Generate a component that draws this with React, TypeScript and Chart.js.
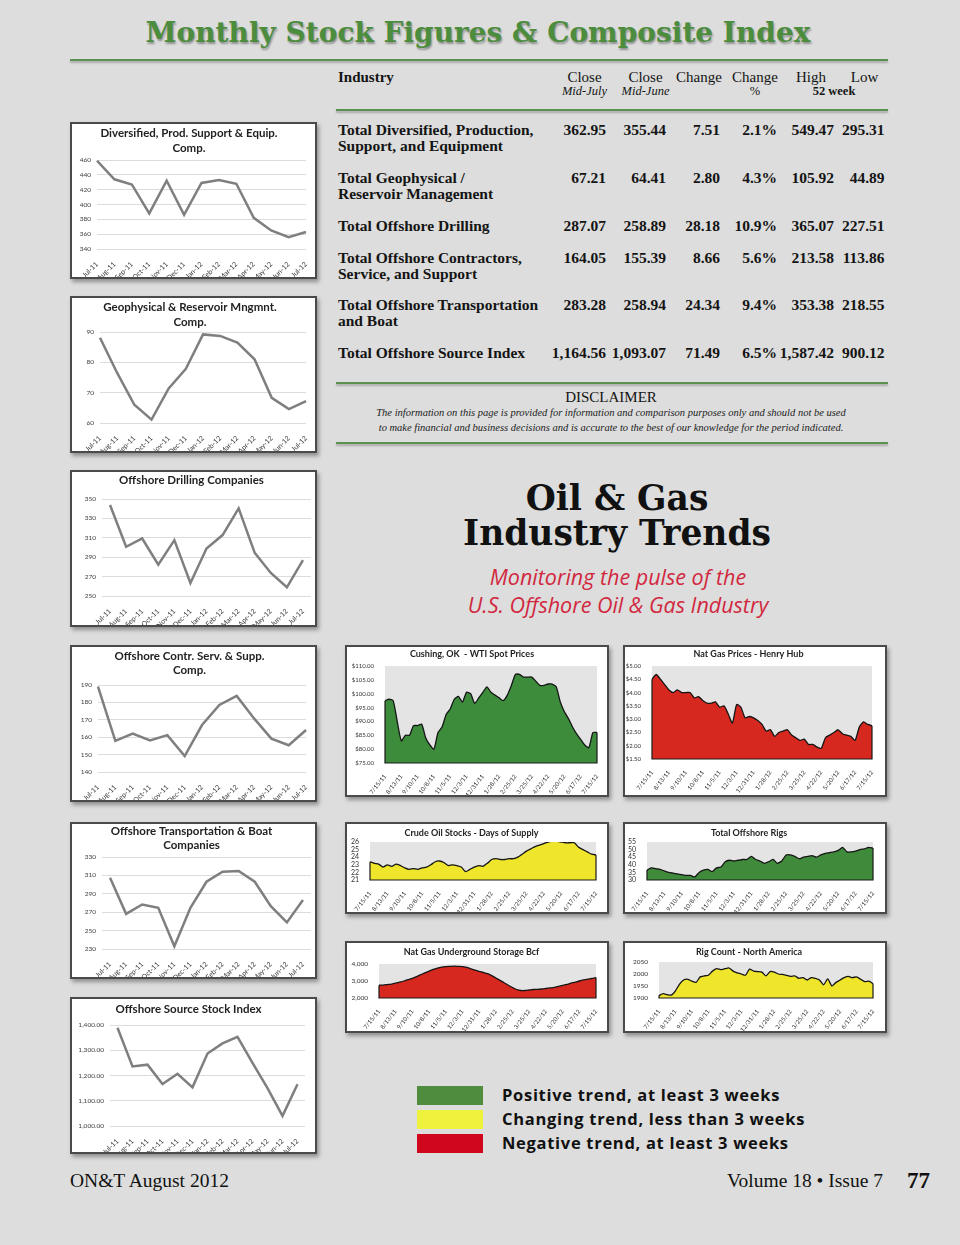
import React, { useEffect, useRef } from 'react';
import { Chart, registerables } from 'chart.js';

Chart.register(...registerables);
Chart.defaults.font.family = "Lato, 'Open Sans', sans-serif";

// ---------- monthly stock charts ----------
const months = ['Jul-11', 'Aug-11', 'Sep-11', 'Oct-11', 'Nov-11', 'Dec-11', 'Jan-12', 'Feb-12', 'Mar-12', 'Apr-12', 'May-12', 'Jun-12', 'Jul-12'];
const diversifiedValues = [459, 434, 427, 388, 432, 386, 429, 433, 428, 382, 365, 356, 363];
const geophysicalValues = [88.1, 76.5, 66, 61.1, 71.4, 77.9, 89.2, 88.7, 86.5, 81, 68.3, 64.6, 67.2];
const drillingValues = [343.8, 300.7, 309.3, 282.4, 307.6, 263.4, 299, 312.8, 340.3, 294.5, 273.8, 259, 287.1];
const contractorsValues = [189, 157.9, 162.1, 158.1, 161.2, 149.2, 167, 178.5, 183.7, 170.8, 159.2, 155.4, 164.1];
const transportValues = [307.5, 268.2, 278.4, 274.7, 232.9, 274.7, 303.1, 314, 314.7, 303.1, 276.5, 258.9, 283.3];
const sourceIndexValues = [1389, 1236, 1243, 1166, 1207, 1153, 1287, 1327, 1353, 1250, 1150, 1040, 1165];

// ---------- weekly trend charts ----------
const dateTicks = ['7/15/11', '8/13/11', '9/10/11', '10/8/11', '11/5/11', '12/3/11', '12/31/11', '1/28/12', '2/25/12', '3/25/12', '4/22/12', '5/20/12', '6/17/12', '7/15/12'];
const wtiValues = [97.5, 98, 97.5, 90, 83, 85, 85, 88.5, 88.5, 89, 84, 81.5, 80, 86, 88, 92.5, 94.5, 98, 99, 97, 100.5, 100, 96.5, 98.5, 100.5, 102.5, 100.5, 99.5, 98.5, 97.5, 99.5, 103, 107, 107, 106, 106, 106, 104.5, 103, 103, 103.5, 103.5, 102.5, 97, 93.5, 91, 88, 85.5, 83.5, 81.5, 80.5, 86, 86];
const henryHubValues = [4.5, 4.68, 4.5, 4.3, 4.1, 4.0, 4.1, 4.0, 4.0, 4.0, 3.8, 3.85, 3.7, 3.6, 3.6, 3.65, 3.45, 3.5, 3.2, 2.85, 3.55, 3.45, 3.05, 3.1, 3.05, 2.95, 2.8, 2.55, 2.6, 2.35, 2.5, 2.55, 2.6, 2.4, 2.3, 2.2, 2.25, 2.05, 2.05, 1.95, 1.9, 2.3, 2.4, 2.5, 2.6, 2.45, 2.4, 2.35, 2.2, 2.7, 2.9, 2.8, 2.75];
const crudeDaysValues = [23.4, 23.2, 23.1, 22.7, 23.0, 22.8, 23.1, 22.9, 22.6, 22.4, 22.5, 22.4, 22.6, 22.7, 23.0, 23.4, 23.5, 23.3, 22.9, 23.0, 22.9, 22.7, 22.1, 22.4, 22.7, 22.9, 22.8, 23.2, 23.7, 23.8, 23.7, 23.7, 23.8, 23.8, 24.0, 24.4, 24.8, 25.1, 25.4, 25.6, 25.8, 26.0, 26.1, 26.1, 26.0, 25.9, 25.9, 25.9, 25.3, 25.0, 24.7, 24.4, 24.3];
const offshoreRigsValues = [36.5, 38, 37.5, 37, 36, 35, 34.5, 34, 33.5, 33, 33, 32, 35, 36.5, 37, 35.5, 38, 38.5, 42, 43, 42.5, 43, 43.5, 43.5, 45.5, 43.5, 42.5, 41, 42, 43.5, 41, 42.5, 46.5, 46.5, 45.5, 44, 45, 45.5, 46, 45, 46.5, 47.5, 48, 48.5, 49.5, 51.5, 48.5, 48.5, 49, 50, 50.5, 51.5, 51];
const storageValues = [2750, 2760, 2790, 2820, 2870, 2930, 3000, 3080, 3160, 3260, 3370, 3480, 3580, 3680, 3760, 3820, 3850, 3860, 3870, 3860, 3850, 3800, 3720, 3640, 3570, 3500, 3430, 3320, 3180, 3040, 2900, 2750, 2620, 2500, 2440, 2440, 2470, 2500, 2510, 2530, 2560, 2590, 2620, 2680, 2740, 2800, 2870, 2930, 3000, 3060, 3110, 3150, 3200];
const rigCountValues = [1910, 1918, 1914, 1912, 1930, 1958, 1975, 1978, 1970, 1965, 1988, 1992, 1995, 2012, 2022, 2018, 2022, 2025, 2012, 2005, 2000, 1995, 2020, 2012, 2010, 2008, 1992, 2010, 2008, 2000, 1998, 1994, 1990, 1992, 1982, 1985, 1975, 1985, 1982, 1975, 1955, 1980, 1950, 1965, 1975, 1985, 1990, 1985, 1988, 1978, 1968, 1970, 1960];
const weeklyLabels = wtiValues.map((_, i) => (i % 4 === 0 ? dateTicks[i / 4] : ''));

// ---------- table ----------
const industries = [
  ['Total Diversified, Production,', 'Support, and Equipment'],
  ['Total Geophysical /', 'Reservoir Management'],
  ['Total Offshore Drilling'],
  ['Total Offshore Contractors,', 'Service, and Support'],
  ['Total Offshore Transportation', 'and Boat'],
  ['Total Offshore Source Index'],
];
const closeMidJuly = ['362.95', '67.21', '287.07', '164.05', '283.28', '1,164.56'];
const closeMidJune = ['355.44', '64.41', '258.89', '155.39', '258.94', '1,093.07'];
const changeValues = ['7.51', '2.80', '28.18', '8.66', '24.34', '71.49'];
const changePct = ['2.1%', '4.3%', '10.9%', '5.6%', '9.4%', '6.5%'];
const high52 = ['549.47', '105.92', '365.07', '213.58', '353.38', '1,587.42'];
const low52 = ['295.31', '44.89', '227.51', '113.86', '218.55', '900.12'];

const legendItems = ['Positive trend, at least 3 weeks', 'Changing trend, less than 3 weeks', 'Negative trend, at least 3 weeks'];
const legendColors = ['#4f8c3e', '#eef23c', '#d0061c'];

const BORDER = 2;
const SERIF = "'Liberation Serif', 'Times New Roman', serif";
const SANS = "'Open Sans', 'Noto Sans', sans-serif";

type Rect = { left: number; top: number; width: number; height: number };
type Plot = { l: number; t: number; r: number; b: number };

function frame(box: Rect, plot: Plot, titleY: number[], size: number) {
  const innerL = box.left + BORDER;
  const innerT = box.top + BORDER;
  const innerR = box.left + box.width - BORDER;
  const innerB = box.top + box.height - BORDER;
  const lh = titleY.length > 1 ? titleY[1] - titleY[0] : size * 1.2;
  const padTop = Math.max(0, titleY[0] - innerT - lh / 2);
  const padBottom = Math.max(0, plot.t - innerT - padTop - lh * titleY.length);
  return { yWidth: plot.l - innerL, xHeight: innerB - plot.b, padRight: innerR - plot.r, padTop, padBottom, lh: lh / size };
}

const plotBgPlugin = {
  id: 'plotBg',
  beforeDraw(chart: any, _args: any, opts: any) {
    if (!opts || !opts.color) return;
    const a = chart.chartArea;
    const ctx = chart.ctx;
    ctx.save();
    ctx.fillStyle = opts.color;
    ctx.fillRect(a.left, a.top, a.right - a.left, a.bottom - a.top);
    ctx.restore();
  },
  afterDatasetsDraw(chart: any, _args: any, opts: any) {
    if (!opts || !opts.edges) return;
    const a = chart.chartArea;
    const pts = chart.getDatasetMeta(0).data;
    if (!pts.length) return;
    const ctx = chart.ctx;
    ctx.save();
    ctx.strokeStyle = '#1a1a1a';
    ctx.lineWidth = 1.2;
    ctx.beginPath();
    ctx.moveTo(pts[0].x, pts[0].y);
    ctx.lineTo(pts[0].x, a.bottom);
    ctx.lineTo(pts[pts.length - 1].x, a.bottom);
    ctx.lineTo(pts[pts.length - 1].x, pts[pts.length - 1].y);
    ctx.stroke();
    ctx.restore();
  },
};

function leftConfig(s: any) {
  const f = frame(s.box, s.plot, s.titleY, 11.5);
  return {
    type: 'line',
    data: { labels: months, datasets: [{ data: s.values, borderColor: '#7f7f7f', borderWidth: 2.5, pointRadius: 0, tension: 0, fill: false }] },
    plugins: [plotBgPlugin],
    options: {
      animation: false,
      responsive: false,
      devicePixelRatio: 1,
      layout: { padding: { top: 0, left: 0, bottom: 0, right: f.padRight } },
      plugins: {
        legend: { display: false },
        tooltip: { enabled: false },
        plotBg: {},
        title: {
          display: true,
          text: s.title,
          color: '#222',
          font: { size: 11.5, weight: 'bold', lineHeight: f.lh },
          padding: { top: f.padTop, bottom: f.padBottom },
        },
      },
      scales: {
        x: {
          offset: s.offset,
          grid: { display: false },
          border: { display: false },
          ticks: { autoSkip: false, maxRotation: 45, minRotation: 45, font: { size: 7 }, color: '#404040', padding: 3 },
          afterFit: (sc: any) => { sc.height = f.xHeight; },
        },
        y: {
          min: s.min,
          max: s.max,
          grid: { color: '#dcdcdc', drawTicks: false },
          border: { display: false },
          ticks: { autoSkip: false, stepSize: s.step, font: { size: 6.5 }, color: '#404040', padding: 6, callback: s.fmt || ((v: any) => String(v)) },
          afterFit: (sc: any) => { sc.width = f.yWidth; },
        },
      },
    },
  };
}

function rightConfig(s: any) {
  const f = frame(s.box, s.plot, s.titleY, 9);
  return {
    type: 'line',
    data: {
      labels: weeklyLabels,
      datasets: [{ data: s.values, borderColor: '#151515', borderWidth: 1.3, backgroundColor: s.color, fill: 'start', pointRadius: 0, tension: 0.2 }],
    },
    plugins: [plotBgPlugin],
    options: {
      animation: false,
      responsive: false,
      devicePixelRatio: 1,
      layout: { padding: { top: 0, left: 0, bottom: 0, right: f.padRight } },
      plugins: {
        legend: { display: false },
        tooltip: { enabled: false },
        plotBg: { color: '#e4e4e4', edges: true },
        title: {
          display: true,
          text: s.title,
          color: '#1e1e1e',
          font: { size: 9, weight: 'bold', lineHeight: f.lh },
          padding: { top: f.padTop, bottom: f.padBottom },
        },
      },
      scales: {
        x: {
          grid: { display: false },
          border: { display: false },
          ticks: { autoSkip: false, maxRotation: 52, minRotation: 52, font: { size: 6 }, color: '#333', padding: 2 },
          afterFit: (sc: any) => { sc.height = f.xHeight; },
        },
        y: {
          min: s.min,
          max: s.max,
          grid: { display: false },
          border: { display: false },
          ticks: { autoSkip: false, stepSize: s.step, font: { size: s.tickSize || 6 }, color: '#333', padding: 3, callback: s.fmt || ((v: any) => String(v)) },
          afterFit: (sc: any) => { sc.width = f.yWidth; },
        },
      },
    },
  };
}

function ChartBox({ box, make }: { box: Rect; make: () => any }) {
  const ref = useRef<HTMLCanvasElement>(null);
  useEffect(() => {
    if (!ref.current) return;
    const chart = new Chart(ref.current, make());
    return () => chart.destroy();
  }, []);
  const w = box.width - 2 * BORDER;
  const h = box.height - 2 * BORDER;
  return (
    <div
      style={{
        position: 'absolute',
        left: box.left,
        top: box.top,
        width: box.width,
        height: box.height,
        boxSizing: 'border-box',
        border: `${BORDER}px solid #4a4a4a`,
        background: '#fff',
        boxShadow: '2px 3px 4px rgba(0,0,0,0.35)',
      }}
    >
      <canvas ref={ref} width={w} height={h} style={{ display: 'block', width: w, height: h }} />
    </div>
  );
}

function Txt({ x, y, lh = 20, align = 'left', w = 600, style, children }: any) {
  let left = x;
  if (align === 'center') left = x - w / 2;
  else if (align === 'right') left = x - w;
  return (
    <div style={{ position: 'absolute', left, top: y - lh / 2, width: w, height: lh, lineHeight: `${lh}px`, textAlign: align, whiteSpace: 'nowrap', ...style }}>
      {children}
    </div>
  );
}

function HLine({ x1, x2, y }: { x1: number; x2: number; y: number }) {
  return <div style={{ position: 'absolute', left: x1, top: y - 1, width: x2 - x1, height: 2, background: '#5a9150', boxShadow: '0 2px 2px rgba(0,0,0,0.25)' }} />;
}

const dollar = (v: any) => '$' + Number(v).toFixed(2);
const thousands = (v: any) => Number(v).toLocaleString('en-US');
const thousands2 = (v: any) => Number(v).toLocaleString('en-US', { minimumFractionDigits: 2, maximumFractionDigits: 2 });

const leftSpecs = [
  { title: ['Diversified, Prod. Support & Equip.', 'Comp.'], values: diversifiedValues, min: 340, max: 460, step: 20, offset: false, box: { left: 70, top: 122, width: 247, height: 157 }, plot: { l: 97, t: 160, r: 306, b: 249 }, titleY: [133, 148] },
  { title: ['Geophysical & Reservoir Mngmnt.', 'Comp.'], values: geophysicalValues, min: 60, max: 90, step: 10, offset: false, box: { left: 70, top: 296, width: 247, height: 157 }, plot: { l: 100, t: 332, r: 308, b: 423 }, titleY: [307, 322] },
  { title: 'Offshore Drilling Companies', values: drillingValues, min: 250, max: 350, step: 20, offset: true, box: { left: 70, top: 470, width: 247, height: 157 }, plot: { l: 102, t: 499, r: 311, b: 596 }, titleY: [480] },
  { title: ['Offshore Contr. Serv. & Supp.', 'Comp.'], values: contractorsValues, min: 140, max: 190, step: 10, offset: false, box: { left: 70, top: 645, width: 247, height: 157 }, plot: { l: 98, t: 685, r: 307, b: 772 }, titleY: [656, 670] },
  { title: ['Offshore Transportation & Boat', 'Companies'], values: transportValues, min: 230, max: 330, step: 20, offset: true, box: { left: 70, top: 822, width: 247, height: 157 }, plot: { l: 102, t: 857, r: 311, b: 949 }, titleY: [831, 845] },
  { title: 'Offshore Source Stock Index', values: sourceIndexValues, min: 1000, max: 1400, step: 100, offset: true, fmt: thousands2, box: { left: 70, top: 997, width: 247, height: 157 }, plot: { l: 110, t: 1025, r: 305, b: 1126 }, titleY: [1009] },
];

const rightSpecs = [
  { title: 'Cushing, OK  - WTI Spot Prices', values: wtiValues, min: 75, max: 110, step: 5, fmt: dollar, color: '#3c8c3c', box: { left: 345, top: 645, width: 264, height: 152 }, plot: { l: 385, t: 666, r: 597, b: 763 }, titleY: [654] },
  { title: 'Nat Gas Prices - Henry Hub', values: henryHubValues, min: 1.5, max: 5, step: 0.5, fmt: dollar, color: '#d6281f', box: { left: 623, top: 645, width: 264, height: 152 }, plot: { l: 652, t: 666, r: 872, b: 759 }, titleY: [654] },
  { title: 'Crude Oil Stocks - Days of Supply', values: crudeDaysValues, min: 21, max: 26, step: 1, tickSize: 7, color: '#efe52b', box: { left: 345, top: 822, width: 264, height: 92 }, plot: { l: 370, t: 842, r: 596, b: 880 }, titleY: [833] },
  { title: 'Total Offshore Rigs', values: offshoreRigsValues, min: 30, max: 55, step: 5, tickSize: 7, color: '#3f8a3b', box: { left: 623, top: 822, width: 264, height: 92 }, plot: { l: 647, t: 842, r: 873, b: 880 }, titleY: [833] },
  { title: 'Nat Gas Underground Storage Bcf', values: storageValues, min: 2000, max: 4000, step: 1000, tickSize: 6.5, fmt: thousands, color: '#d6281f', box: { left: 345, top: 941, width: 264, height: 92 }, plot: { l: 379, t: 964, r: 596, b: 998 }, titleY: [952] },
  { title: 'Rig Count - North America', values: rigCountValues, min: 1900, max: 2050, step: 50, tickSize: 6.5, color: '#efe52b', box: { left: 623, top: 941, width: 264, height: 92 }, plot: { l: 659, t: 962, r: 873, b: 998 }, titleY: [952] },
];

const rowY = [130, 178, 226, 258, 305, 353];
const colRight = [606, 666, 720, 777, 834, 884.5];
const colData = [closeMidJuly, closeMidJune, changeValues, changePct, high52, low52];

export default function App() {
  const tableStyle = { fontFamily: SERIF, fontSize: 15.5, fontWeight: 'bold', color: '#141414' };
  const headStyle = { fontFamily: SERIF, fontSize: 15, color: '#141414' };
  const subStyle = { fontFamily: SERIF, fontSize: 12.5, fontStyle: 'italic', color: '#141414' };
  return (
    <div style={{ position: 'absolute', left: 0, top: 0, width: 960, height: 1245, background: '#dcdddc', overflow: 'hidden' }}>
      <Txt x={478} y={33} lh={36} align="center" w={900} style={{ fontFamily: "'DejaVu Serif', serif", fontWeight: 'bold', fontSize: 28, color: '#4b8c3d', textShadow: '1px 2px 2px rgba(0,0,0,0.35)' }}>
        Monthly Stock Figures &amp; Composite Index
      </Txt>
      <HLine x1={70} x2={888} y={60} />

      {/* table header */}
      <Txt x={338} y={77} lh={18} style={{ ...headStyle, fontWeight: 'bold' }}>Industry</Txt>
      <Txt x={584.5} y={77} lh={18} align="center" w={80} style={headStyle}>Close</Txt>
      <Txt x={584.5} y={91} lh={16} align="center" w={80} style={subStyle}>Mid-July</Txt>
      <Txt x={645.5} y={77} lh={18} align="center" w={80} style={headStyle}>Close</Txt>
      <Txt x={645.5} y={91} lh={16} align="center" w={80} style={subStyle}>Mid-June</Txt>
      <Txt x={699} y={77} lh={18} align="center" w={80} style={headStyle}>Change</Txt>
      <Txt x={755} y={77} lh={18} align="center" w={80} style={headStyle}>Change</Txt>
      <Txt x={755} y={91} lh={16} align="center" w={80} style={{ ...headStyle, fontSize: 12.5 }}>%</Txt>
      <Txt x={811} y={77} lh={18} align="center" w={80} style={headStyle}>High</Txt>
      <Txt x={864.5} y={77} lh={18} align="center" w={80} style={headStyle}>Low</Txt>
      <Txt x={834} y={91} lh={16} align="center" w={80} style={{ ...headStyle, fontSize: 12.5, fontWeight: 'bold' }}>52 week</Txt>
      <HLine x1={336} x2={888} y={110} />

      {industries.map((lines, r) => (
        <React.Fragment key={r}>
          {lines.map((t, k) => (
            <Txt key={k} x={338} y={rowY[r] + k * 16} lh={18} style={tableStyle}>{t}</Txt>
          ))}
          {colData.map((col, c) => (
            <Txt key={'c' + c} x={colRight[c]} y={rowY[r]} lh={18} align="right" w={90} style={tableStyle}>{col[r]}</Txt>
          ))}
        </React.Fragment>
      ))}
      <HLine x1={336} x2={888} y={383} />
      <Txt x={611} y={397} lh={18} align="center" w={300} style={{ fontFamily: SERIF, fontSize: 15, color: '#141414' }}>DISCLAIMER</Txt>
      <Txt x={611} y={413} lh={14} align="center" w={560} style={{ fontFamily: SERIF, fontSize: 10.5, fontStyle: 'italic', color: '#222' }}>
        The information on this page is provided for information and comparison purposes only and should not be used
      </Txt>
      <Txt x={611} y={428} lh={14} align="center" w={560} style={{ fontFamily: SERIF, fontSize: 10.5, fontStyle: 'italic', color: '#222' }}>
        to make financial and business decisions and is accurate to the best of our knowledge for the period indicated.
      </Txt>
      <HLine x1={336} x2={888} y={443} />

      {/* heading */}
      <Txt x={617} y={498} lh={40} align="center" w={500} style={{ fontFamily: "'DejaVu Serif', serif", fontWeight: 'bold', fontSize: 34.5, color: '#111' }}>Oil &amp; Gas</Txt>
      <Txt x={617} y={533} lh={40} align="center" w={500} style={{ fontFamily: "'DejaVu Serif', serif", fontWeight: 'bold', fontSize: 34.5, color: '#111' }}>Industry Trends</Txt>
      <Txt x={618} y={577} lh={28} align="center" w={500} style={{ fontFamily: SANS, fontStyle: 'italic', fontSize: 21.5, color: '#d2283f' }}>Monitoring the pulse of the</Txt>
      <Txt x={618} y={605} lh={28} align="center" w={500} style={{ fontFamily: SANS, fontStyle: 'italic', fontSize: 21.5, color: '#d2283f' }}>U.S. Offshore Oil &amp; Gas Industry</Txt>

      {leftSpecs.map((s, i) => (
        <ChartBox key={'l' + i} box={s.box} make={() => leftConfig(s)} />
      ))}
      {rightSpecs.map((s, i) => (
        <ChartBox key={'r' + i} box={s.box} make={() => rightConfig(s)} />
      ))}

      {/* legend */}
      {legendItems.map((t, i) => (
        <React.Fragment key={'lg' + i}>
          <div style={{ position: 'absolute', left: 417, top: 1086 + i * 24, width: 66, height: 19, background: legendColors[i] }} />
          <Txt x={502} y={1095 + i * 24} lh={22} w={400} style={{ fontFamily: SANS, fontWeight: 'bold', fontSize: 16.5, letterSpacing: 0.7, color: '#111' }}>{t}</Txt>
        </React.Fragment>
      ))}

      {/* footer */}
      <Txt x={70} y={1181} lh={24} w={300} style={{ fontFamily: SERIF, fontSize: 19.5, color: '#111' }}>ON&amp;T August 2012</Txt>
      <Txt x={883} y={1181} lh={24} align="right" w={300} style={{ fontFamily: SERIF, fontSize: 19.5, color: '#111' }}>Volume 18 • Issue 7</Txt>
      <Txt x={930} y={1181} lh={26} align="right" w={60} style={{ fontFamily: SERIF, fontSize: 23, fontWeight: 'bold', color: '#111' }}>77</Txt>
    </div>
  );
}
